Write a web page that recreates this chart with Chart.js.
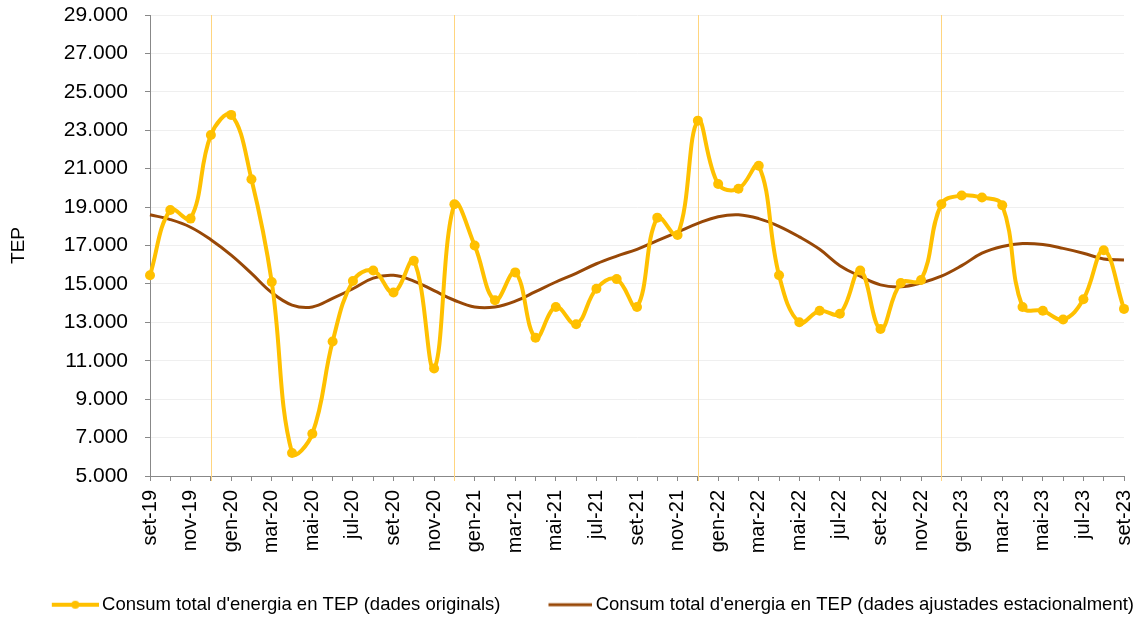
<!DOCTYPE html>
<html lang="ca">
<head>
<meta charset="UTF-8">
<title>Consum total d'energia en TEP</title>
<script src="https://cdn.jsdelivr.net/npm/chart.js"></script>
<style>
  html, body { margin: 0; padding: 0; background: #ffffff; }
  #wrap { width: 1139px; height: 620px; }
</style>
</head>
<body>
<div id="wrap"><canvas id="energyChart"></canvas></div>
<script>
  // monthly categories, set-19 .. set-23
  const months = [
    'set-19', 'oct-19', 'nov-19', 'des-19',
    'gen-20', 'feb-20', 'mar-20', 'abr-20', 'mai-20', 'jun-20', 'jul-20', 'ago-20', 'set-20', 'oct-20', 'nov-20', 'des-20',
    'gen-21', 'feb-21', 'mar-21', 'abr-21', 'mai-21', 'jun-21', 'jul-21', 'ago-21', 'set-21', 'oct-21', 'nov-21', 'des-21',
    'gen-22', 'feb-22', 'mar-22', 'abr-22', 'mai-22', 'jun-22', 'jul-22', 'ago-22', 'set-22', 'oct-22', 'nov-22', 'des-22',
    'gen-23', 'feb-23', 'mar-23', 'abr-23', 'mai-23', 'jun-23', 'jul-23', 'ago-23', 'set-23'
  ];

  // dades originals (TEP)
  const originals = [
    15450, 18850, 18400, 22750,
    23800, 20450, 15100, 6200, 7200, 12000, 15150, 15700, 14550, 16200, 10600, 19150,
    17000, 14150, 15600, 12200, 13800, 12900, 14750, 15250, 13800, 18450, 17550, 23500,
    20200, 19950, 21150, 15450, 13000, 13600, 13450, 15700, 12650, 15050, 15200, 19150,
    19600, 19500, 19100, 13800, 13600, 13150, 14200, 16750, 13700
  ];

  // dades ajustades estacionalment (TEP)
  const adjusted = [
    18600, 18350, 17950, 17300,
    16500, 15550, 14550, 13900, 13800, 14250, 14750, 15300, 15450, 15150, 14650, 14150,
    13800, 13800, 14100, 14600, 15100, 15550, 16050, 16450, 16800, 17250, 17700, 18150,
    18500, 18600, 18400, 18000, 17450, 16800, 15950, 15400, 14950, 14850, 15050, 15400,
    15950, 16600, 16950, 17100, 17050, 16850, 16600, 16300, 16250
  ];

  const yMin = 5000, yMax = 29000, yStep = 2000;

  const seriesNames = [
    "Consum total d'energia en TEP (dades originals)",
    "Consum total d'energia en TEP (dades ajustades estacionalment)"
  ];

  const YELLOW = '#FFC000';
  const BROWN = '#984807';
  const FONT = "'Liberation Sans', Arial, sans-serif";
  const MARK_W = 81; // legend box width

  // 29000 -> "29.000"
  function fmt(v) {
    return String(v).replace(/\B(?=(\d{3})+(?!\d))/g, '.');
  }

  // legend marker: a short line (with a dot for the original series),
  // drawn at the right end of an image slightly wider than the box
  function legendMark(color, width, len, withDot) {
    const c = document.createElement('canvas');
    c.width = MARK_W + 12; c.height = 12;
    const g = c.getContext('2d');
    const end = c.width, start = end - len;
    g.strokeStyle = color;
    g.lineWidth = width;
    g.beginPath(); g.moveTo(start, 6); g.lineTo(end, 6); g.stroke();
    if (withDot) {
      g.fillStyle = color;
      g.beginPath(); g.arc((start + end) / 2, 6, 4, 0, Math.PI * 2); g.fill();
    }
    return c;
  }
  const legendMarks = [legendMark(YELLOW, 4, 47, true), legendMark(BROWN, 3, 44, false)];

  // thin vertical line at every december
  const yearLines = {
    id: 'yearLines',
    beforeDatasetsDraw(chart) {
      const { ctx, chartArea, scales: { x } } = chart;
      ctx.save();
      ctx.strokeStyle = '#FFD57F';
      ctx.lineWidth = 1;
      months.forEach((m, i) => {
        if (!m.startsWith('des')) return;
        const px = Math.round(x.getPixelForValue(i)) + 0.5;
        ctx.beginPath();
        ctx.moveTo(px, chartArea.top);
        ctx.lineTo(px, chartArea.bottom + 5);
        ctx.stroke();
      });
      ctx.restore();
    }
  };

  const ctx = document.getElementById('energyChart').getContext('2d');
  new Chart(ctx, {
    type: 'line',
    data: {
      labels: months,
      datasets: [
        {
          label: seriesNames[0],
          data: originals,
          borderColor: YELLOW,
          backgroundColor: YELLOW,
          borderWidth: 4,
          pointRadius: 5,
          pointBorderWidth: 0,
          pointBackgroundColor: YELLOW,
          tension: 0.4,
          fill: false,
          order: 1
        },
        {
          label: seriesNames[1],
          data: adjusted,
          borderColor: BROWN,
          backgroundColor: BROWN,
          borderWidth: 3,
          pointRadius: 0,
          tension: 0.4,
          fill: false,
          order: 2
        }
      ]
    },
    options: {
      responsive: true,
      maintainAspectRatio: false,
      animation: false,
      layout: { padding: { top: 0, left: 4, right: 0, bottom: -4 } },
      plugins: {
        tooltip: { enabled: false },
        legend: {
          position: 'bottom',
          align: 'end',
          labels: {
            font: { family: FONT, size: 18.5 },
            color: '#000',
            usePointStyle: true,
            pointStyleWidth: MARK_W,
            padding: 5,
            generateLabels: (chart) =>
              Chart.defaults.plugins.legend.labels.generateLabels(chart)
                .map((item, i) => ({ ...item, pointStyle: legendMarks[i] }))
          }
        }
      },
      scales: {
        x: {
          offset: false,
          grid: { drawOnChartArea: false, drawTicks: true, tickLength: 5, tickColor: '#888' },
          border: { color: '#888', width: 1 },
          ticks: {
            autoSkip: false,
            maxRotation: 90,
            minRotation: 90,
            padding: 9,
            color: '#000',
            font: { family: FONT, size: 20 },
            callback: function (value, index) {
              return index % 2 === 0 ? months[index] : '';
            }
          },
          afterFit: (scale) => {
            scale.height = 114.5;
            scale.paddingRight = 15;
          }
        },
        y: {
          min: yMin,
          max: yMax,
          grid: { color: '#efefef', lineWidth: 1, tickLength: 5, tickColor: '#888' },
          border: { color: '#888', width: 1 },
          ticks: {
            stepSize: yStep,
            padding: 17,
            color: '#000',
            font: { family: FONT, size: 21 },
            callback: (v) => fmt(v)
          },
          title: {
            display: true,
            text: 'TEP',
            color: '#000',
            font: { family: FONT, size: 19 },
            padding: { top: 3, bottom: 10 }
          },
          afterFit: (scale) => {
            scale.width = 146;
            scale.paddingTop = 15;
          }
        }
      }
    },
    plugins: [yearLines]
  });
</script>
</body>
</html>
